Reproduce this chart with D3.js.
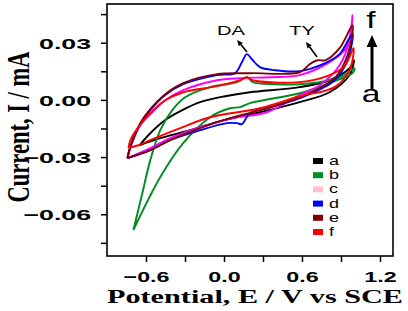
<!DOCTYPE html>
<html>
<head>
<meta charset="utf-8">
<script src="https://cdn.jsdelivr.net/npm/d3@7"></script>
<style>
  body { margin: 0; background: #fff; }
  svg { display: block; }
</style>
</head>
<body>
<svg id="chart"></svg>
<script>
// CV loops, [E (V), I (mA)], forward scan then return scan
const curveA = [[-0.65,-0.0238],[-0.567,-0.0175],[-0.452,-0.0106],[-0.321,-0.0054],[-0.184,-0.0012],[0.008,0.0019],[0.199,0.0040],[0.582,0.0067],[0.812,0.0103],[0.966,0.0166],[1.0,0.0208],
  [0.966,0.0130],[0.812,0.0040],[0.582,-0.0012],[0.276,-0.0065],[0.0,-0.0106],[-0.261,-0.0159],[-0.49,-0.0201],[-0.65,-0.0238]];
const curveB = [[-0.697,-0.0683],[-0.628,-0.0489],[-0.567,-0.0316],[-0.49,-0.0159],[-0.398,-0.0054],[-0.299,0.0014],[-0.107,0.0067],[0.10,0.0093],[0.176,0.0119],[0.222,0.0093],[0.391,0.0082],[0.582,0.0082],[0.812,0.0103],[0.927,0.0130],[1.004,0.0166],
  [0.989,0.0140],[0.812,0.0088],[0.582,0.0035],[0.199,-0.0017],[0.123,-0.0038],[0.046,-0.0044],[-0.107,-0.0091],[-0.314,-0.0227],[-0.49,-0.0405],[-0.697,-0.0683]];
const curveC = [[-0.743,-0.0306],[-0.72,-0.0248],[-0.644,-0.0133],[-0.567,-0.0075],[-0.452,-0.0002],[-0.314,0.0051],[-0.054,0.0103],[0.123,0.0114],[0.352,0.0119],[0.582,0.0130],[0.812,0.0198],[0.943,0.0276],[0.989,0.0444],
  [0.966,0.0313],[0.889,0.0182],[0.736,0.0077],[0.582,0.0025],[0.33,-0.0065],[0.069,-0.0096],[-0.184,-0.0143],[-0.414,-0.0201],[-0.567,-0.0253],[-0.743,-0.0306]];
const curveD = [[-0.743,-0.0306],[-0.72,-0.0248],[-0.644,-0.0127],[-0.567,-0.0054],[-0.452,0.0025],[-0.314,0.0082],[-0.054,0.0130],[0.084,0.0140],[0.138,0.0198],[0.176,0.0240],[0.215,0.0213],[0.276,0.0172],[0.391,0.0156],[0.582,0.0151],[0.774,0.0192],[0.889,0.0240],[0.989,0.0350],
  [0.95,0.0208],[0.851,0.0103],[0.582,0.0009],[0.33,-0.0044],[0.199,-0.0070],[0.138,-0.0127],[0.10,-0.0122],[0.023,-0.0122],[-0.184,-0.0159],[-0.414,-0.0211],[-0.567,-0.0264],[-0.743,-0.0306]];
const curveE = [[-0.743,-0.0306],[-0.72,-0.0243],[-0.644,-0.0122],[-0.567,-0.0049],[-0.452,0.0030],[-0.314,0.0088],[-0.054,0.0135],[0.199,0.0140],[0.582,0.0145],[0.659,0.0187],[0.72,0.0208],[0.782,0.0208],[0.889,0.0271],[0.989,0.0392],
  [0.95,0.0234],[0.851,0.0114],[0.582,0.0014],[0.276,-0.0054],[0.046,-0.0096],[-0.184,-0.0148],[-0.414,-0.0211],[-0.567,-0.0264],[-0.743,-0.0306]];
const curveF = [[-0.735,-0.0253],[-0.72,-0.0211],[-0.659,-0.0143],[-0.544,-0.0054],[-0.452,-0.0002],[-0.314,0.0040],[-0.054,0.0072],[0.123,0.0103],[0.176,0.0119],[0.222,0.0103],[0.582,0.0093],[0.812,0.0130],[0.927,0.0177],[0.996,0.0271],
  [0.966,0.0156],[0.851,0.0067],[0.582,0.0019],[0.276,-0.0044],[-0.107,-0.0091],[-0.337,-0.0148],[-0.567,-0.0211],[-0.659,-0.0238],[-0.735,-0.0253]];

const seriesNames = ["a", "b", "c", "d", "e", "f"];
const seriesCurves = [curveA, curveB, curveC, curveD, curveE, curveF];
const curveColors = ["#000000", "#008c1e", "#ff00ff", "#0000ff", "#800000", "#ff0000"];
const swatchColors = ["#000000", "#008c1e", "#ffc0cb", "#0000ff", "#800000", "#ff0000"];

const xTicks = [-0.6, -0.3, 0.0, 0.3, 0.6, 0.9, 1.2];
const xLabelTicks = [-0.6, 0.0, 0.6, 1.2];
const yTicks = [0.045, 0.03, 0.015, 0.0, -0.015, -0.03, -0.045, -0.06, -0.075];
const yLabelTicks = [0.03, 0.0, -0.03, -0.06];

const width = 408, height = 311;
const margin = { top: 4, right: 15, bottom: 55, left: 107 };

const svg = d3.select("#chart").attr("width", width).attr("height", height);

const x = d3.scaleLinear().domain([-0.9, 1.3]).range([margin.left, width - margin.right]);
const y = d3.scaleLinear().domain([-0.0819, 0.0503]).range([height - margin.bottom, margin.top]);

const line = d3.line()
    .x(d => x(d[0]))
    .y(d => y(d[1]))
    .curve(d3.curveCatmullRom.alpha(0.5));

// curves
svg.append("g").selectAll("path")
    .data(seriesCurves)
    .enter()
    .append("path")
    .attr("d", d => line(d))
    .attr("fill", "none")
    .attr("stroke", (d, i) => curveColors[i])
    .attr("stroke-width", 1.9)
    .attr("stroke-linejoin", "round");

// axes
const fmt = v => xLabelTicks.includes(v) ? d3.format(".1f")(v) : "";
const xAxis = svg.append("g")
    .attr("transform", `translate(0,${y.range()[0]})`)
    .call(d3.axisBottom(x).tickValues(xTicks).tickSize(6).tickPadding(9).tickFormat(fmt));

const yAxis = svg.append("g")
    .attr("transform", `translate(${margin.left},0)`)
    .call(d3.axisLeft(y).tickValues(yTicks).tickSize(6)
        .tickFormat(v => yLabelTicks.some(t => Math.abs(t - v) < 1e-9) ? d3.format(".2f")(v) : ""));

[xAxis, yAxis].forEach(a => {
    a.select(".domain").remove();
    a.selectAll(".tick line").attr("stroke", "#000").attr("stroke-width", 1.5);
    a.selectAll("text")
        .style("font-family", "'Liberation Sans', Arial, sans-serif")
        .style("font-weight", "bold")
        .style("font-size", "15px")
        .attr("fill", "#000");
});
xAxis.selectAll("text").attr("transform", "scale(1.55,1)");
yAxis.selectAll("text")
    .attr("x", 0)
    .attr("dy", "0.36em")
    .attr("transform", "translate(-16,0) scale(1.78,1)");

// frame
svg.append("rect")
    .attr("x", x.range()[0])
    .attr("y", y.range()[1])
    .attr("width", x.range()[1] - x.range()[0])
    .attr("height", y.range()[0] - y.range()[1])
    .attr("fill", "none")
    .attr("stroke", "#000")
    .attr("stroke-width", 1.6);

// axis titles
svg.append("text")
    .attr("transform", `translate(29,127) scale(1.45,1) rotate(-90)`)
    .attr("text-anchor", "middle")
    .style("font-family", "'Liberation Serif', 'Times New Roman', serif")
    .style("font-weight", "bold")
    .style("font-size", "22.5px")
    .text("Current, I / mA");

svg.append("text")
    .attr("transform", `translate(255,303) scale(1.55,1)`)
    .attr("text-anchor", "middle")
    .style("font-family", "'Liberation Serif', 'Times New Roman', serif")
    .style("font-weight", "bold")
    .style("font-size", "19.5px")
    .text("Potential, E / V vs SCE");

// legend
const legend = svg.append("g").attr("transform", "translate(313,161)");
const rows = legend.selectAll("g")
    .data(seriesNames)
    .enter()
    .append("g")
    .attr("transform", (d, i) => `translate(0,${i * 14.2})`);
rows.append("rect")
    .attr("x", 0).attr("y", -3)
    .attr("width", 10).attr("height", 6)
    .attr("fill", (d, i) => swatchColors[i]);
rows.append("text")
    .attr("transform", "translate(16,4) scale(1.5,1)")
    .style("font-family", "'Liberation Sans', Arial, sans-serif")
    .style("font-size", "12px")
    .text(d => d);

// annotations
function arrow(x1, y1, x2, y2, w, head) {
    const ang = Math.atan2(y2 - y1, x2 - x1);
    const bx = x2 - head * Math.cos(ang), by = y2 - head * Math.sin(ang);
    svg.append("line")
        .attr("x1", x1).attr("y1", y1).attr("x2", bx).attr("y2", by)
        .attr("stroke", "#000").attr("stroke-width", w);
    const px = -Math.sin(ang) * head * 0.45, py = Math.cos(ang) * head * 0.45;
    svg.append("path")
        .attr("d", `M${x2},${y2}L${bx + px},${by + py}L${bx - px},${by - py}Z`)
        .attr("fill", "#000");
}

const annLabels = ["DA", "TY"];
const annPos = [[231, 35], [302, 35]];
annLabels.forEach((t, i) => {
    svg.append("text")
        .attr("transform", `translate(${annPos[i][0]},${annPos[i][1]}) scale(1.55,1)`)
        .attr("text-anchor", "middle")
        .style("font-family", "'Liberation Sans', Arial, sans-serif")
        .style("font-size", "13px")
        .text(t);
});
arrow(247, 52, 237, 40, 1.6, 6);
arrow(317, 57, 306, 42, 1.6, 6);

arrow(372, 89, 372, 35, 3, 12);
svg.append("text")
    .attr("transform", "translate(371,28) scale(1.4,1)")
    .attr("text-anchor", "middle")
    .style("font-family", "'Liberation Sans', Arial, sans-serif")
    .style("font-size", "24px")
    .text("f");
svg.append("text")
    .attr("transform", "translate(371,102) scale(1.4,1)")
    .attr("text-anchor", "middle")
    .style("font-family", "'Liberation Sans', Arial, sans-serif")
    .style("font-size", "24px")
    .text("a");
</script>
</body>
</html>
